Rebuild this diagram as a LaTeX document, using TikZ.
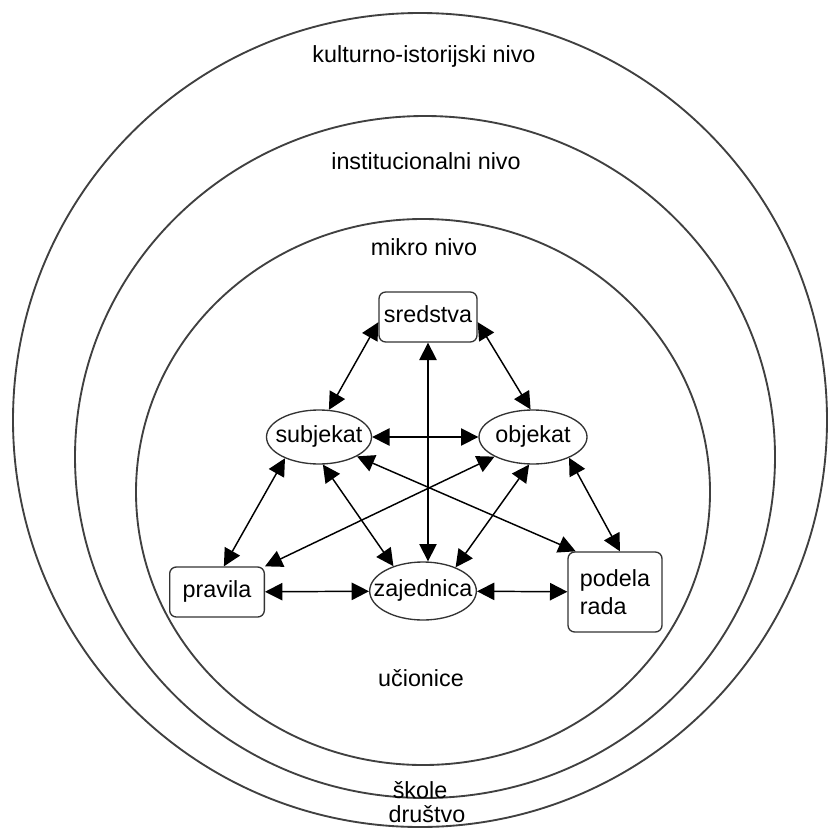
\documentclass[tikz,border=0pt]{standalone}
\usepackage{fontspec}
\setmainfont{Liberation Sans}
\usetikzlibrary{arrows.meta,shapes.geometric}
\newcommand{\elltext}[1]{\makebox[0pt]{#1}}

\begin{document}
\begin{tikzpicture}[x=0.75pt, y=-0.75pt,
    font=\fontsize{17.5}{20.5}\selectfont,
    ring/.style={line width=1.4pt, draw=black!75},
    lbl/.style={anchor=base, inner sep=0pt},
    tdim/.style={text height=12pt, text depth=4pt},
    box/.style={draw=black!80, line width=1pt, rounded corners=5pt, minimum width=#1, minimum height=37.5pt},
    oval/.style={draw=black!80, line width=1pt, ellipse, inner sep=0pt, minimum width=#1, minimum height=40.5pt},
    link/.style={{Triangle[length=13pt,width=13pt]}-{Triangle[length=13pt,width=13pt]}, line width=1.1pt}]
  \useasboundingbox (0,0) rectangle (829,834);

  % levels
  \draw[ring] (420,420) circle[radius=407];
  \draw[ring] (425,457) ellipse[x radius=350, y radius=341];
  \draw[ring] (423,492) ellipse[x radius=287, y radius=273];
  \node[lbl] (kulturni) at (424,63) {kulturno-istorijski nivo};
  \node[lbl] (institucionalni) at (426,170) {institucionalni nivo};
  \node[lbl] (mikro) at (424,255) {mikro nivo};
  \node[lbl] (ucionice) at (421,686) {učionice};
  \node[lbl] (skole) at (420,798) {škole};
  \node[lbl] (drustvo) at (427,822) {društvo};

  % activity system
  \node[box=73.5pt, tdim] (sredstva) at (428,317) {sredstva};
  \node[oval=78.75pt, tdim] (subjekat) at (319,437) {\elltext{subjekat}};
  \node[oval=81pt, tdim] (objekat) at (533,437) {\elltext{objekat}};
  \node[box=71pt, tdim] (pravila) at (217,592) {pravila};
  \node[oval=80pt, tdim, minimum height=43.5pt] (zajednica) at (423,591) {\elltext{zajednica}};
  \node[box=70.5pt, minimum height=60pt, align=left] (podela) at (615,592) {podela\\rada};

  % links
  \draw[link] (sredstva.186) -- (subjekat.70);
  \draw[link] (sredstva.354) -- (objekat.95);
  \draw[link] (sredstva.south) -- (sredstva.south |- zajednica.north);
  \draw[link] (subjekat) -- (objekat);
  \draw[link] (subjekat.212) -- (pravila.75);
  \draw[link] (subjekat.278) -- (zajednica.140);
  \draw[link] (subjekat.333) -- (podela.134);
  \draw[link] (objekat.207) -- (pravila.north east);
  \draw[link] (objekat.262) -- (zajednica.36);
  \draw[link] (objekat.330) -- (podela.83);
  \draw[link] (pravila) -- (zajednica);
  \draw[link] (zajednica) -- (podela);
\end{tikzpicture}
\end{document}
